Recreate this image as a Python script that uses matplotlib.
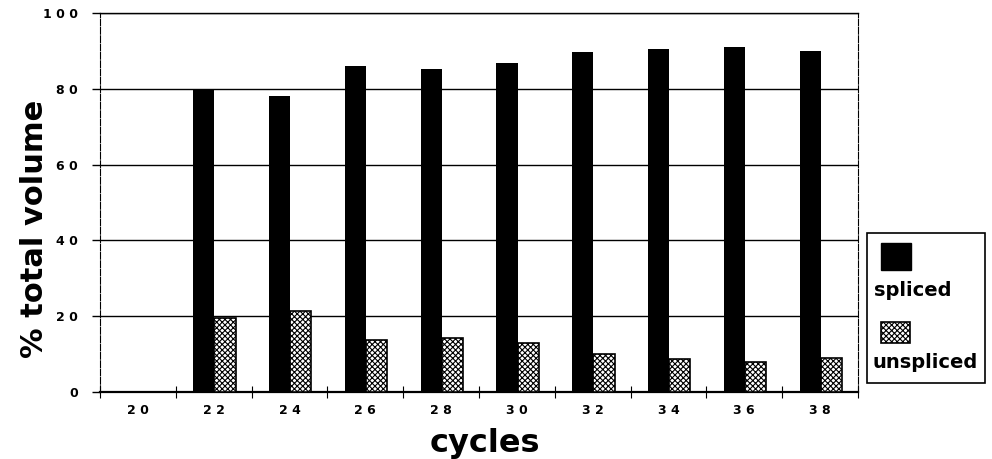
import matplotlib.pyplot as plt
import matplotlib.patches as mpatches
import numpy as np

cycles = ['20', '22', '24', '26', '28', '30', '32', '34', '36', '38']
spliced = [0, 80, 78.2, 86, 85.3, 86.7, 89.8, 90.5, 91, 89.9]
unspliced = [0, 19.5, 21.4, 13.7, 14.3, 13, 10, 8.7, 8, 9.1]
y_ticks = [0, 20, 40, 60, 80, 100]

plt.rcParams['font.family'] = 'DejaVu Sans'
plt.rcParams['hatch.linewidth'] = 0.8

fig = plt.figure(figsize=(9.92, 4.59), dpi=100)
ax = fig.add_axes([100 / 992, 1 - 392 / 459, 758 / 992, 379 / 459])

x = np.arange(len(cycles))
w = 0.28

ax.bar(x - w / 2 + 0.01, spliced, width=w, color='black', zorder=3)
ax.bar(x + w / 2 + 0.01, unspliced, width=w, facecolor='white', edgecolor='black',
       hatch='xxxxxx', linewidth=1.2, zorder=3)

ax.set_xlim(-0.5, len(cycles) - 0.5)
ax.set_ylim(0, 100)

# horizontal gridlines
ax.set_yticks(y_ticks)
ax.set_yticklabels([' '.join(str(v)) for v in y_ticks], fontsize=9, fontweight='bold')
ax.yaxis.grid(True, color='black', linewidth=1.0, zorder=0)
ax.tick_params(axis='y', direction='out', length=6, width=1, pad=10)

# category labels at centres, tick marks between groups
ax.set_xticks(x)
ax.set_xticklabels([' '.join(c) for c in cycles], fontsize=9, fontweight='bold')
ax.tick_params(axis='x', which='major', length=0, pad=9)
ax.set_xticks(np.arange(len(cycles) + 1) - 0.5, minor=True)
ax.tick_params(axis='x', which='minor', direction='inout', length=8, width=0.8)

for s in ['left', 'right']:
    ax.spines[s].set_linewidth(0.8)
    ax.spines[s].set_linestyle((0, (6, 1.5)))
ax.spines['top'].set_linewidth(1.0)
ax.spines['bottom'].set_linewidth(1.6)

ax.set_xlabel('cycles', fontsize=23, fontweight='bold')
ax.xaxis.set_label_coords(0.508, -0.095, transform=ax.transAxes)
ax.xaxis.label.set_va('top')
ax.set_ylabel('% total volume', fontsize=22, fontweight='bold')
ax.yaxis.set_label_coords(-0.067, 0.43)

# legend box drawn beside the plot, label under each swatch
def fx(px):
    return px / 992


def fy(py):
    return 1 - py / 459


fig.add_artist(mpatches.Rectangle((fx(867), fy(383)), fx(985) - fx(867), fy(233) - fy(383),
                                  transform=fig.transFigure, facecolor='white',
                                  edgecolor='black', linewidth=1.2))
fig.add_artist(mpatches.Rectangle((fx(881), fy(270)), fx(911) - fx(881), fy(243) - fy(270),
                                  transform=fig.transFigure, facecolor='black',
                                  edgecolor='black'))
fig.text(fx(874), fy(291), 'spliced', fontsize=14, fontweight='bold', va='center', ha='left')
fig.add_artist(mpatches.Rectangle((fx(881), fy(343)), fx(910) - fx(881), fy(322) - fy(343),
                                  transform=fig.transFigure, facecolor='white',
                                  edgecolor='black', hatch='xxxxxx', linewidth=1.2))
fig.text(fx(873), fy(362), 'unspliced', fontsize=14, fontweight='bold', va='center', ha='left')

plt.savefig('out.png', dpi=100)
